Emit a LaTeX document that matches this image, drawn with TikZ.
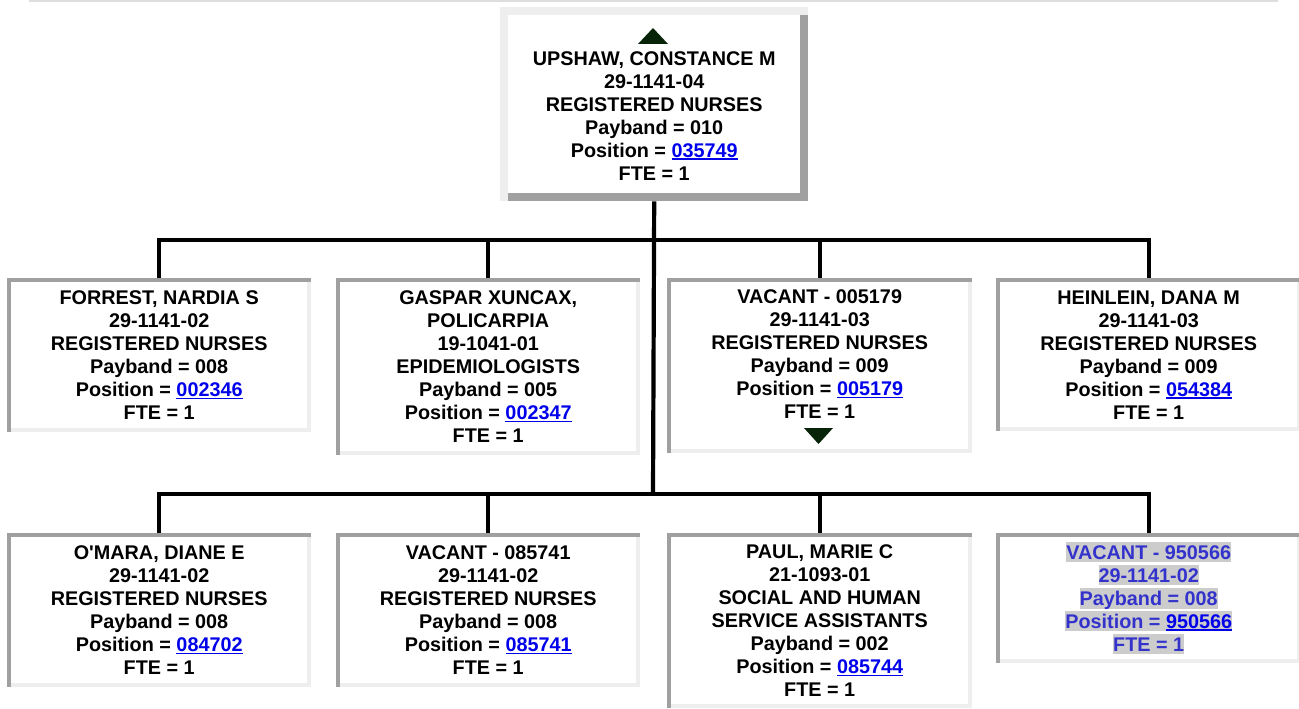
\documentclass[tikz,border=0pt]{standalone}
\usepackage{fontspec}
\newfontfamily\arial{Liberation Sans}
\usetikzlibrary{calc}
\definecolor{bdark}{RGB}{160,160,160}
\definecolor{blight}{RGB}{238,238,238}
\definecolor{lightline}{RGB}{222,222,222}
\definecolor{tridark}{RGB}{8,36,8}
\definecolor{linkblue}{RGB}{0,0,235}
\definecolor{vacblue}{RGB}{51,51,204}
\definecolor{hlgray}{RGB}{204,204,204}
\newcommand\lnk[1]{\textcolor{linkblue}{\setbox0\hbox{#1}\rlap{\rule[-2.6pt]{\wd0}{1.6pt}}\box0}}
\newcommand\hlx[1]{{\fboxsep=0pt\colorbox{hlgray}{\rule[-3pt]{0pt}{20pt}#1}}}
\newcommand\insetframe[2]{%
  \fill[blight] ([yshift=#2pt]#1.south west) rectangle (#1.south east);
  \fill[blight] ([xshift=-#2pt]#1.north east) rectangle (#1.south east);
  \fill[bdark] (#1.north west) rectangle ([yshift=-#2pt]#1.north east);
  \fill[bdark] (#1.north west) rectangle ([xshift=#2pt]#1.south west);
}
\newcommand\outsetframe[2]{%
  \fill[blight] (#1.north west) rectangle ([yshift=-#2pt]#1.north east);
  \fill[blight] (#1.north west) rectangle ([xshift=#2pt]#1.south west);
  \fill[bdark] ([yshift=#2pt,xshift=#2pt]#1.south west) rectangle (#1.south east);
  \fill[bdark] ([xshift=-#2pt,yshift=-#2pt]#1.north east) rectangle (#1.south east);
}
\begin{document}
\begin{tikzpicture}[x=1pt,y=-1pt,
  card/.style={anchor=north west, fill=white, inner sep=0pt, align=center,
    font=\arial\fontsize{19.8}{23}\selectfont\bfseries, text=black},
  conn/.style={draw=black, line width=4.2pt, line join=miter},
  tri/.style={fill=tridark}]
\useasboundingbox (0,0) rectangle (1299,709);
\draw[line width=1.5pt, draw=lightline] (29,1) -- (1278,1);

% top
\node[card, minimum width=308pt, minimum height=194pt] (top) at (500,7)
  {\rule{0pt}{14pt}\\UPSHAW, CONSTANCE M\\29-1141-04\\REGISTERED NURSES\\Payband = 010\\Position = \lnk{035749}\\FTE = 1};
\outsetframe{top}{8}
\fill[tri] (638,44) -- (668,44) -- (653,28) -- cycle;

% row 1
\node[card, minimum width=304pt, minimum height=154pt] (forrest) at (7,278)
  {FORREST, NARDIA S\\29-1141-02\\REGISTERED NURSES\\Payband = 008\\Position = \lnk{002346}\\FTE = 1};
\node[card, minimum width=304pt, minimum height=177pt] (gaspar) at (336,278)
  {GASPAR XUNCAX,\\POLICARPIA\\19-1041-01\\EPIDEMIOLOGISTS\\Payband = 005\\Position = \lnk{002347}\\FTE = 1};
\node[card, minimum width=305pt, minimum height=175pt] (vacA) at (667,278)
  {VACANT - 005179\\29-1141-03\\REGISTERED NURSES\\Payband = 009\\Position = \lnk{005179}\\FTE = 1\\\rule{0pt}{14pt}};
\node[card, minimum width=305pt, minimum height=153pt] (heinlein) at (996,278)
  {HEINLEIN, DANA M\\29-1141-03\\REGISTERED NURSES\\Payband = 009\\Position = \lnk{054384}\\FTE = 1};
\insetframe{forrest}{4}
\insetframe{gaspar}{4}
\insetframe{vacA}{4}
\insetframe{heinlein}{4}
\fill[tri] (804,428) -- (833,428) -- (818.5,444) -- cycle;

% row 2
\node[card, minimum width=304pt, minimum height=154pt] (omara) at (7,533)
  {O'MARA, DIANE E\\29-1141-02\\REGISTERED NURSES\\Payband = 008\\Position = \lnk{084702}\\FTE = 1};
\node[card, minimum width=304pt, minimum height=154pt] (vacB) at (336,533)
  {VACANT - 085741\\29-1141-02\\REGISTERED NURSES\\Payband = 008\\Position = \lnk{085741}\\FTE = 1};
\node[card, minimum width=305pt, minimum height=175pt] (paul) at (667,533)
  {PAUL, MARIE C\\21-1093-01\\SOCIAL AND HUMAN\\SERVICE ASSISTANTS\\Payband = 002\\Position = \lnk{085744}\\FTE = 1};
\node[card, minimum width=305pt, minimum height=130pt, text=vacblue] (vacC) at (996,533)
  {\hlx{VACANT - 950566}\\\hlx{29-1141-02}\\\hlx{Payband = 008}\\\hlx{Position = \lnk{950566}}\\\hlx{FTE = 1}};
\insetframe{omara}{4}
\insetframe{vacB}{4}
\insetframe{paul}{4}
\insetframe{vacC}{4}

% connectors
\coordinate (j1) at (653,240);
\coordinate (j2) at (653,494);
\draw[conn] (top.south) -- (j2);
\draw[conn] (forrest.north) -- (forrest.north |- j1) -- (heinlein.north |- j1) -- (heinlein.north);
\draw[conn] (gaspar.north) -- (gaspar.north |- j1);
\draw[conn] (vacA.north) -- (vacA.north |- j1);
\draw[conn] (omara.north) -- (omara.north |- j2) -- (vacC.north |- j2) -- (vacC.north);
\draw[conn] (vacB.north) -- (vacB.north |- j2);
\draw[conn] (paul.north) -- (paul.north |- j2);
\end{tikzpicture}
\end{document}
